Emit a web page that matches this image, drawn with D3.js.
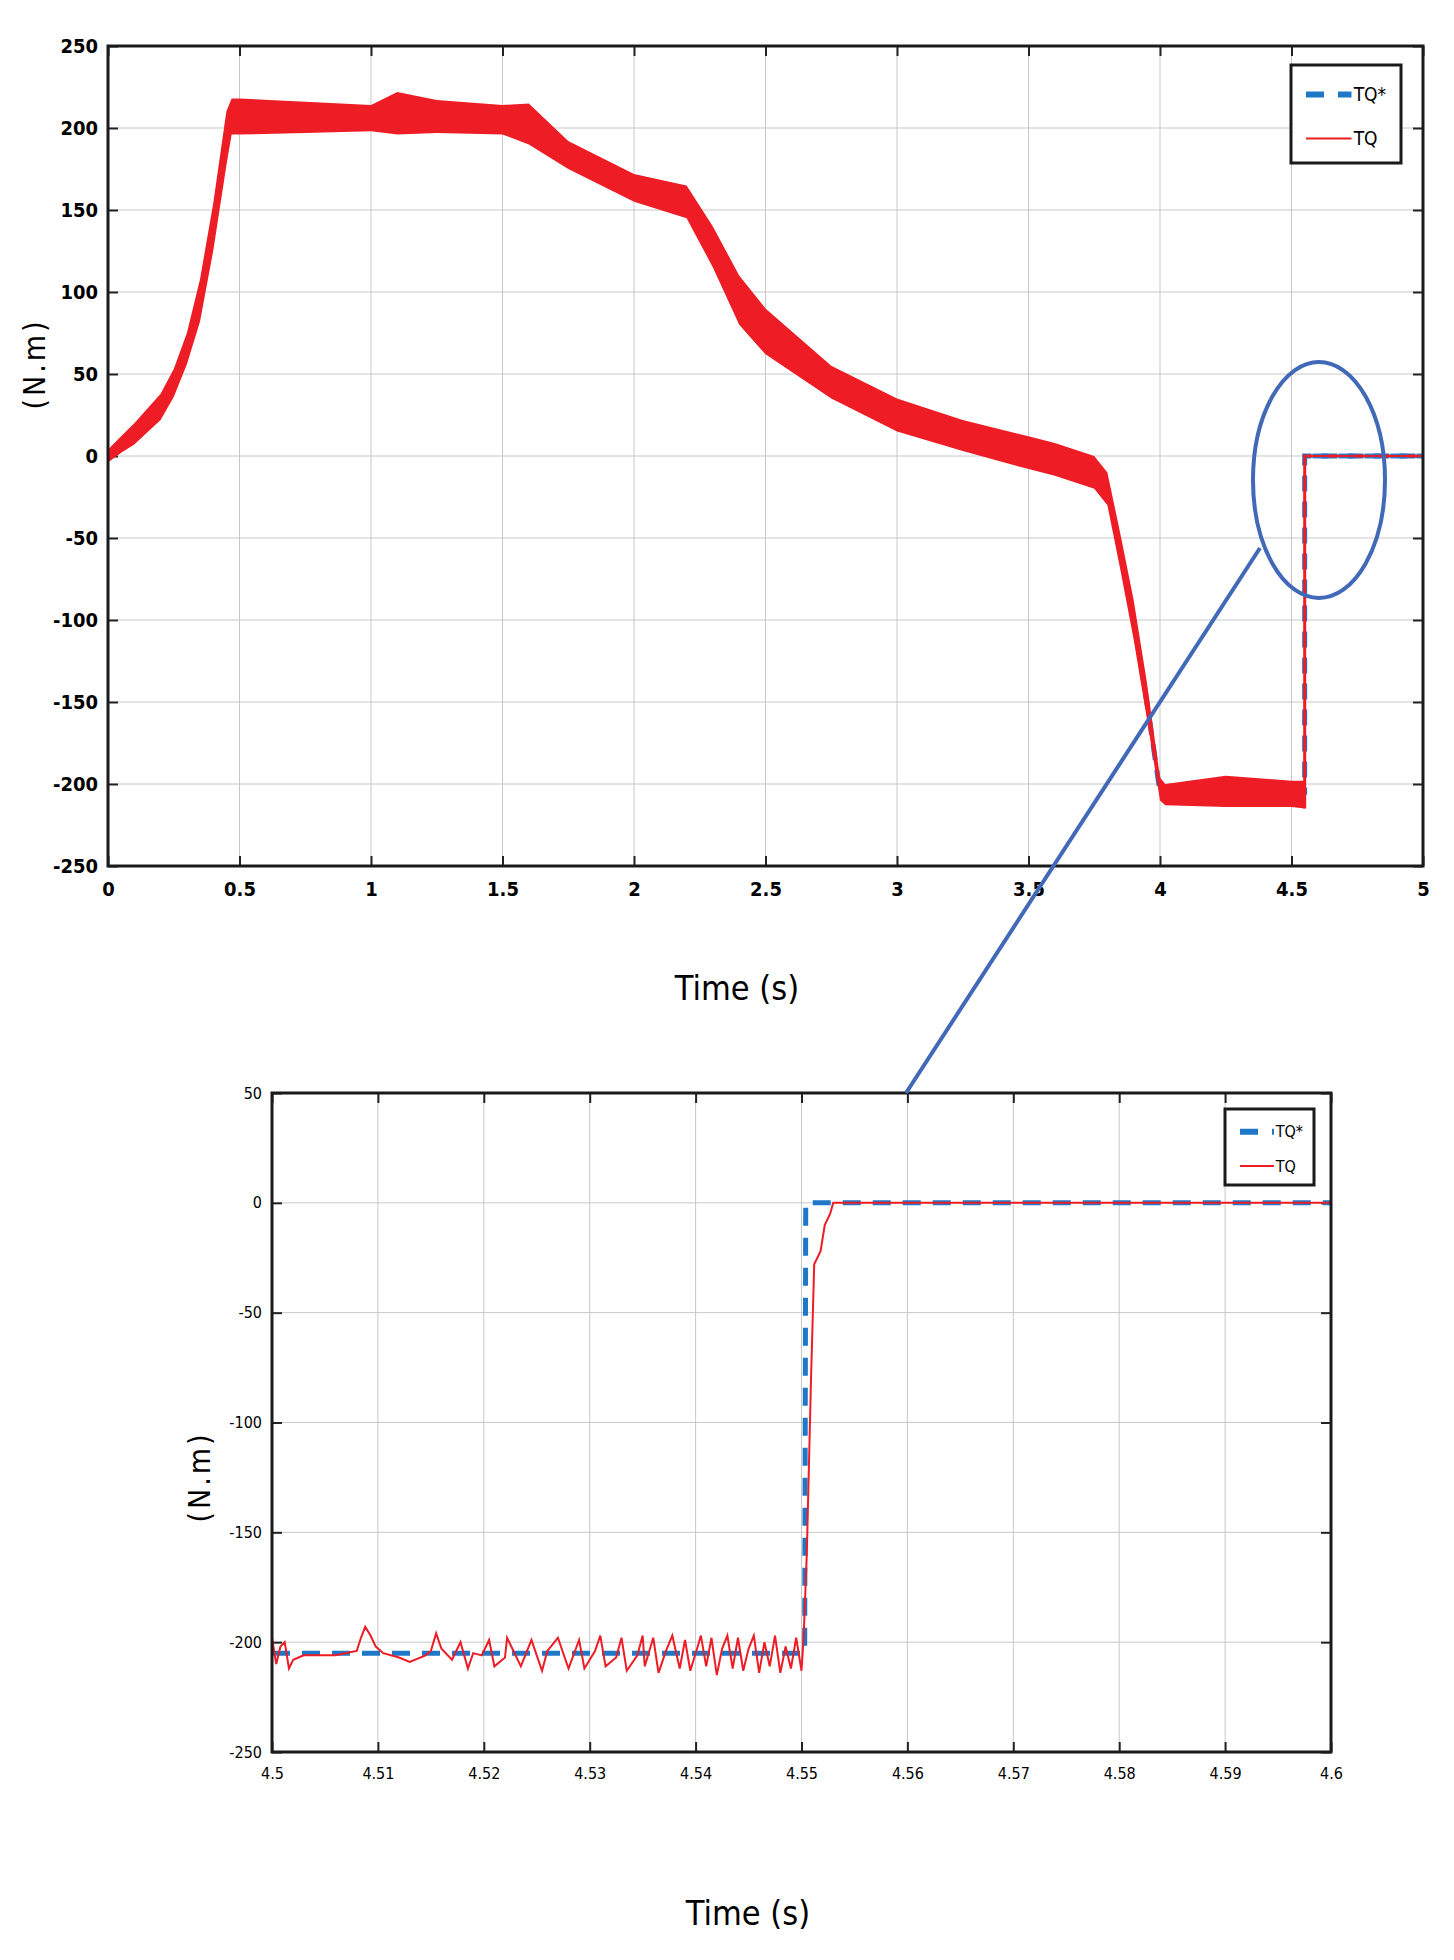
<!DOCTYPE html>
<html><head><meta charset="utf-8">
<script src="https://cdn.jsdelivr.net/npm/d3@7"></script>
<style>body{margin:0;background:#fff}svg text{font-family:"DejaVu Sans Condensed","DejaVu Sans",sans-serif;font-stretch:condensed}</style>
</head><body><svg id="c" width="1454" height="1960"></svg>
<script>
// ---- data (top: full run) ----
const refT   = [0,0.1,0.2,0.3,0.35,0.4,0.45,0.5,1.6,1.75,2.0,2.2,2.3,2.4,2.5,2.75,3.0,3.25,3.5,3.75,3.8,3.85,3.9,3.95,4.0,4.55,4.5501,5];
const refV   = [0,12,30,65,95,140,195,205,205,185,165,155,125,95,75,45,25,12,2,-10,-20,-60,-100,-150,-205,-205,0,0];
const bandT  = [0,0.05,0.1,0.2,0.25,0.3,0.35,0.4,0.45,0.47,0.5,0.75,1.0,1.1,1.25,1.5,1.6,1.75,2.0,2.2,2.3,2.4,2.5,2.75,3.0,3.25,3.5,3.6,3.75,3.8,3.85,3.9,3.95,4.0,4.02,4.25,4.5,4.55];
const bandLo = [-4,2,7,22,36,56,82,125,177,196,196,197,198,196,197,196,190,175,155,145,115,80,62,35,15,3,-8,-12,-20,-30,-70,-112,-160,-210,-213,-214,-214,-215];
const bandHi = [4,12,20,38,53,75,108,154,210,218,218,216,214,222,217,214,215,192,172,165,140,110,90,55,35,22,12,8,0,-10,-48,-88,-138,-196,-200,-195,-198,-198];
const topXTicks = [0,0.5,1,1.5,2,2.5,3,3.5,4,4.5,5];
const topYTicks = [-250,-200,-150,-100,-50,0,50,100,150,200,250];
// ---- data (bottom: zoom 4.5 - 4.6) ----
const zRefT = [4.5,4.5503,4.5504,4.6];
const zRefV = [-205,-205,0,0];
const zT = [4.5,4.5004,4.5008,4.5012,4.5016,4.502,4.5025,4.503,4.506,4.508,4.5084,4.5088,4.5093,4.5098,4.5105,4.512,4.513,4.5145,4.515,4.5155,4.516,4.517,4.5178,4.5185,4.519,4.5198,4.5205,4.521,4.522,4.5222,4.5235,4.524,4.5245,4.5255,4.526,4.527,4.528,4.529,4.5295,4.5305,4.531,4.5315,4.5325,4.533,4.5335,4.5345,4.535,4.5352,4.536,4.5365,4.5372,4.5378,4.5385,4.539,4.5395,4.5402,4.5405,4.541,4.5415,4.542,4.5425,4.543,4.5435,4.544,4.5445,4.545,4.5455,4.546,4.5465,4.547,4.5475,4.548,4.5485,4.549,4.5495,4.55,4.5502,4.5505,4.5509,4.5512,4.5518,4.5522,4.5527,4.553,4.6];
const zV = [-198,-210,-202,-200,-212,-208,-207,-206,-206,-204,-198,-193,-197,-202,-205,-207,-209,-206,-204,-196,-203,-208,-200,-212,-205,-206,-199,-211,-207,-198,-211,-205,-199,-213,-204,-198,-212,-199,-212,-204,-197,-211,-207,-198,-213,-206,-197,-211,-198,-214,-204,-197,-212,-199,-213,-202,-197,-211,-198,-215,-203,-197,-212,-198,-213,-203,-197,-214,-200,-211,-197,-214,-202,-212,-198,-213,-198,-160,-80,-28,-22,-10,-5,0,0];
const zXTicks = [4.5,4.51,4.52,4.53,4.54,4.55,4.56,4.57,4.58,4.59,4.6];
const zYTicks = [-250,-200,-150,-100,-50,0,50];

const svg = d3.select("#c");
const blue="#1f77c8", red="#ee1c25";

function panel(x0,x1,y0,y1,xd,yd,xt,yt,opts){
  const x=d3.scaleLinear().domain(xd).range([x0,x1]);
  const y=d3.scaleLinear().domain(yd).range([y1,y0]);
  const g=svg.append("g");
  g.selectAll(".gx").data(xt).join("line").attr("x1",d=>x(d)).attr("x2",d=>x(d)).attr("y1",y0).attr("y2",y1).attr("stroke","#c8c8c8");
  g.selectAll(".gy").data(yt).join("line").attr("y1",d=>y(d)).attr("y2",d=>y(d)).attr("x1",x0).attr("x2",x1).attr("stroke","#c8c8c8");
  const fmtX = opts.fmtX||(d=>String(d));
  const ax=g.append("g").attr("transform",`translate(0,${y1})`).call(d3.axisBottom(x).tickValues(xt).tickFormat(fmtX).tickSize(-10).tickPadding(16));
  const ax2=g.append("g").attr("transform",`translate(0,${y0})`).call(d3.axisTop(x).tickValues(xt).tickFormat("").tickSize(-10));
  const ay=g.append("g").attr("transform",`translate(${x0},0)`).call(d3.axisLeft(y).tickValues(yt).tickFormat(d=>String(d)).tickSize(-10).tickPadding(10));
  const ay2=g.append("g").attr("transform",`translate(${x1},0)`).call(d3.axisRight(y).tickValues(yt).tickFormat("").tickSize(-10));
  [ax,ax2,ay,ay2].forEach(a=>{a.select(".domain").remove();a.selectAll("line").attr("stroke","#222").attr("stroke-width",2);
    a.selectAll("text").attr("fill","#000").attr("font-size",opts.fs).attr("font-weight",opts.fw);});
  return {x,y,g};
}
function frame(x0,x1,y0,y1,w){svg.append("rect").attr("x",x0).attr("y",y0).attr("width",x1-x0).attr("height",y1-y0).attr("fill","none").attr("stroke","#1a1a1a").attr("stroke-width",w);}

// top panel
const T=panel(108,1423,46,866,[0,5],[-250,250],topXTicks,topYTicks,{fs:20,fw:"bold"});
T.g.append("path").datum(refT.map((t,i)=>[t,refV[i]])).attr("d",d3.line().x(d=>T.x(d[0])).y(d=>T.y(d[1])))
 .attr("fill","none").attr("stroke",blue).attr("stroke-width",5).attr("stroke-dasharray","16,10");
T.g.append("path").datum(bandT.map((t,i)=>[t,bandLo[i],bandHi[i]]))
 .attr("d",d3.area().x(d=>T.x(d[0])).y0(d=>T.y(d[1])).y1(d=>T.y(d[2]))).attr("fill",red);
T.g.append("path").datum([[4.5502,-215],[4.5502,0],[5,0]]).attr("d",d3.line().x(d=>T.x(d[0])).y(d=>T.y(d[1])))
 .attr("fill","none").attr("stroke",red).attr("stroke-width",3);
T.g.append("path").datum([[4.58,0],[5,0]]).attr("d",d3.line().x(d=>T.x(d[0])).y(d=>T.y(d[1])))
 .attr("fill","none").attr("stroke",blue).attr("stroke-width",5).attr("stroke-dasharray","16,10").attr("opacity",0.9);
T.g.append("path").datum([[4.58,0],[5,0]]).attr("d",d3.line().x(d=>T.x(d[0])).y(d=>T.y(d[1])))
 .attr("fill","none").attr("stroke",red).attr("stroke-width",2);
frame(108,1423,46,866,3);

// bottom panel
const B=panel(272,1331,1093,1752,[4.5,4.6],[-250,50],zXTicks,zYTicks,{fs:16,fw:"normal",fmtX:d3.format(".2~f")});
B.g.append("path").datum(zRefT.map((t,i)=>[t,zRefV[i]])).attr("d",d3.line().x(d=>B.x(d[0])).y(d=>B.y(d[1])))
 .attr("fill","none").attr("stroke",blue).attr("stroke-width",5).attr("stroke-dasharray","18,12");
B.g.append("path").datum(zT.map((t,i)=>[t,zV[i]])).attr("d",d3.line().x(d=>B.x(d[0])).y(d=>B.y(d[1])))
 .attr("fill","none").attr("stroke",red).attr("stroke-width",2);
frame(272,1331,1093,1752,3);

// legends
function legend(x,y,w,h,fs){
  svg.append("rect").attr("x",x).attr("y",y).attr("width",w).attr("height",h).attr("fill","#fff").attr("stroke","#1a1a1a").attr("stroke-width",3);
  svg.append("line").attr("x1",x+15).attr("x2",x+w*0.55).attr("y1",y+h*0.3).attr("y2",y+h*0.3).attr("stroke",blue).attr("stroke-width",6).attr("stroke-dasharray","18,14");
  svg.append("line").attr("x1",x+15).attr("x2",x+w*0.55).attr("y1",y+h*0.75).attr("y2",y+h*0.75).attr("stroke",red).attr("stroke-width",2);
  svg.append("text").attr("x",x+w*0.57).attr("y",y+h*0.3+fs*0.35).text("TQ*").attr("font-size",fs);
  svg.append("text").attr("x",x+w*0.57).attr("y",y+h*0.75+fs*0.35).text("TQ").attr("font-size",fs);
}
legend(1291,65,110,98,19);
legend(1225,1109,89,76,16);

// axis titles
svg.append("text").attr("x",737).attr("y",1000).attr("text-anchor","middle").attr("font-size",34).text("Time (s)");
svg.append("text").attr("x",748).attr("y",1925).attr("text-anchor","middle").attr("font-size",34).text("Time (s)");
svg.append("text").attr("transform","translate(45,364) rotate(-90)").attr("text-anchor","middle").attr("font-size",30).attr("letter-spacing",3).text("(N.m)");
svg.append("text").attr("transform","translate(210,1477) rotate(-90)").attr("text-anchor","middle").attr("font-size",30).attr("letter-spacing",3).text("(N.m)");

// zoom indicator
svg.append("ellipse").attr("cx",1319).attr("cy",480).attr("rx",66).attr("ry",118).attr("fill","none").attr("stroke","#4169b8").attr("stroke-width",4);
svg.append("line").attr("x1",1260).attr("y1",548).attr("x2",906).attr("y2",1093).attr("stroke","#4169b8").attr("stroke-width",4);
</script></body></html>
